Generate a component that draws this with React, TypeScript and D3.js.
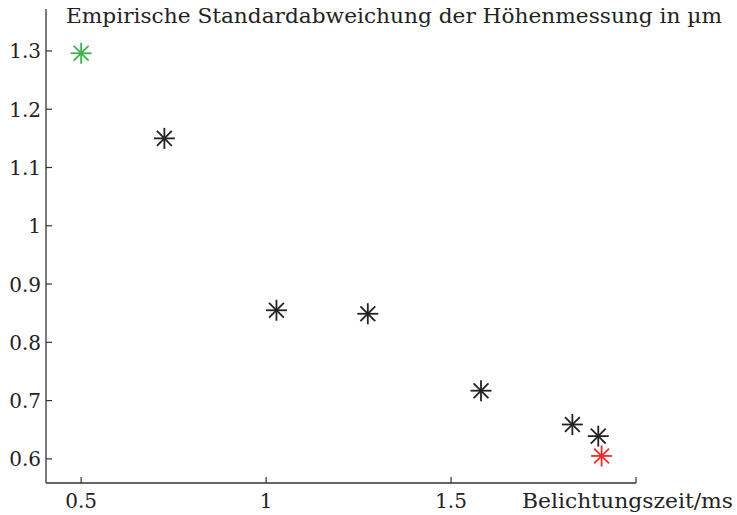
import React from "react";
import * as d3 from "d3";

const xValues = [0.5, 0.725, 1.028, 1.275, 1.581, 1.828, 1.898, 1.907];
const yValues = [1.296, 1.15, 0.855, 0.849, 0.717, 0.659, 0.639, 0.605];
const pointColors = ["#3cb34a", "#222222", "#222222", "#222222", "#222222", "#222222", "#222222", "#ee2a2a"];
const yTicks = [0.6, 0.7, 0.8, 0.9, 1.0, 1.1, 1.2, 1.3];
const xTicks = [0.5, 1, 1.5, 2];
const xTickLabels = ["0.5", "1", "1.5", ""];
const title = "Empirische Standardabweichung der Höhenmessung in µm";
const xTitle = "Belichtungszeit/ms";

const W = 737;
const H = 515;
const FONT = "'DejaVu Serif', serif";

export default function App() {
  const x = d3.scaleLinear().domain([0.405, 2.0]).range([46, 636]);
  const y = d3.scaleLinear().domain([0.5586, 1.372]).range([483, 9]);
  const axisColor = "#333";
  const r = 10.5;
  const star = (cx: number, cy: number, color: string, i: number) => {
    const d = r * Math.SQRT1_2;
    return (
      <g key={i} stroke={color} strokeWidth={1.8}>
        <line x1={cx - r} y1={cy} x2={cx + r} y2={cy} />
        <line x1={cx} y1={cy - r} x2={cx} y2={cy + r} />
        <line x1={cx - d} y1={cy - d} x2={cx + d} y2={cy + d} />
        <line x1={cx - d} y1={cy + d} x2={cx + d} y2={cy - d} />
      </g>
    );
  };
  const fmtY = (v: number) => (Math.abs(v - 1) < 1e-9 ? "1" : v.toFixed(1));
  return (
    <svg
      width={W}
      height={H}
      style={{ position: "absolute", left: 0, top: 0, background: "#fff" }}
      fontFamily={FONT}
    >
      <rect x={0} y={0} width={W} height={H} fill="#fff" />
      {/* axes */}
      <line x1={x(0.405)} y1={y(1.372)} x2={x(0.405)} y2={y(0.5586)} stroke={axisColor} strokeWidth={1.3} />
      <line x1={x(0.405)} y1={y(0.5586)} x2={x(2.0)} y2={y(0.5586)} stroke={axisColor} strokeWidth={1.3} />
      {yTicks.map((t) => (
        <g key={"y" + t}>
          <line x1={x(0.405)} x2={x(0.405) + 6} y1={y(t)} y2={y(t)} stroke={axisColor} strokeWidth={1.2} />
          <text x={41} y={y(t) + 7.5} textAnchor="end" fontSize={20} fill="#222">
            {fmtY(t)}
          </text>
        </g>
      ))}
      {xTicks.map((t, i) => (
        <g key={"x" + t}>
          <line x1={x(t)} x2={x(t)} y1={y(0.5586)} y2={y(0.5586) - 6} stroke={axisColor} strokeWidth={1.2} />
          <text x={x(t)} y={508} textAnchor="middle" fontSize={20} fill="#222">
            {xTickLabels[i]}
          </text>
        </g>
      ))}
      <text x={66} y={23} fontSize={20} fill="#222" textLength={656} lengthAdjust="spacingAndGlyphs">
        {title}
      </text>
      <text x={522} y={508} fontSize={20} fill="#222" textLength={211} lengthAdjust="spacingAndGlyphs">
        {xTitle}
      </text>
      {xValues.map((v, i) => star(x(v), y(yValues[i]), pointColors[i], i))}
    </svg>
  );
}
